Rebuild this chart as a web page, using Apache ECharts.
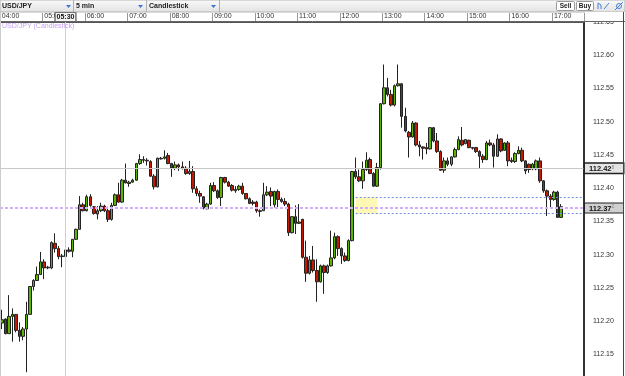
<!DOCTYPE html>
<html>
<head>
<meta charset="utf-8">
<script src="https://cdn.jsdelivr.net/npm/echarts@6/dist/echarts.min.js"></script>
<style>
  html, body { margin: 0; padding: 0; background: #fff; }
  #chart { width: 625px; height: 376px; }
</style>
</head>
<body>
<div id="chart"></div>
<script>
// USD/JPY 5 min candles
const opens = [
  112.197, 112.203, 112.181, 112.207, 112.210, 112.186, 112.177, 112.188, 112.210, 112.252,
  112.261, 112.270, 112.289, 112.280, 112.280, 112.317, 112.309, 112.298, 112.297, 112.307,
  112.305, 112.323, 112.338, 112.375, 112.366, 112.387, 112.372, 112.361, 112.366, 112.373,
  112.366, 112.353, 112.374, 112.390, 112.379, 112.412, 112.407, 112.409, 112.412, 112.437,
  112.443, 112.442, 112.440, 112.418, 112.402, 112.444, 112.445, 112.449, 112.437, 112.430,
  112.435, 112.432, 112.430, 112.422, 112.425, 112.399, 112.392, 112.387, 112.369, 112.376,
  112.404, 112.396, 112.386, 112.416, 112.409, 112.404, 112.396, 112.398, 112.403, 112.392,
  112.384, 112.379, 112.379, 112.366, 112.366, 112.390, 112.395, 112.375, 112.395, 112.383,
  112.380, 112.376, 112.333, 112.357, 112.347, 112.353, 112.296, 112.272, 112.292, 112.276,
  112.259, 112.283, 112.273, 112.283, 112.295, 112.327, 112.309, 112.298, 112.291, 112.321,
  112.425, 112.417, 112.411, 112.428, 112.443, 112.422, 112.403, 112.431, 112.527, 112.551,
  112.541, 112.525, 112.554, 112.557, 112.508, 112.484, 112.477, 112.498, 112.465, 112.462,
  112.461, 112.459, 112.491, 112.471, 112.455, 112.427, 112.441, 112.436, 112.447, 112.458,
  112.472, 112.467, 112.472, 112.461, 112.461, 112.455, 112.448, 112.443, 112.468, 112.465,
  112.448, 112.474, 112.457, 112.468, 112.442, 112.440, 112.452, 112.457, 112.441, 112.436,
  112.429, 112.429, 112.441, 112.411, 112.396, 112.388, 112.383, 112.394, 112.356
];
const closes = [
  112.202, 112.181, 112.207, 112.210, 112.186, 112.177, 112.188, 112.210, 112.252, 112.261,
  112.270, 112.289, 112.280, 112.281, 112.318, 112.309, 112.297, 112.297, 112.307, 112.305,
  112.323, 112.338, 112.375, 112.366, 112.387, 112.374, 112.362, 112.366, 112.373, 112.366,
  112.353, 112.374, 112.390, 112.379, 112.412, 112.408, 112.409, 112.412, 112.437, 112.443,
  112.442, 112.441, 112.418, 112.402, 112.445, 112.445, 112.447, 112.437, 112.430, 112.435,
  112.432, 112.430, 112.422, 112.425, 112.399, 112.392, 112.388, 112.370, 112.376, 112.404,
  112.396, 112.386, 112.416, 112.409, 112.403, 112.397, 112.398, 112.403, 112.392, 112.384,
  112.377, 112.377, 112.366, 112.365, 112.390, 112.394, 112.388, 112.395, 112.383, 112.380,
  112.376, 112.333, 112.357, 112.347, 112.349, 112.296, 112.272, 112.292, 112.276, 112.259,
  112.283, 112.273, 112.283, 112.295, 112.327, 112.309, 112.298, 112.291, 112.321, 112.425,
  112.417, 112.411, 112.428, 112.442, 112.422, 112.403, 112.431, 112.527, 112.551, 112.541,
  112.525, 112.554, 112.557, 112.508, 112.486, 112.477, 112.498, 112.465, 112.462, 112.460,
  112.459, 112.491, 112.471, 112.455, 112.427, 112.441, 112.436, 112.447, 112.458, 112.473,
  112.465, 112.473, 112.461, 112.460, 112.455, 112.448, 112.443, 112.468, 112.465, 112.448,
  112.474, 112.456, 112.468, 112.441, 112.440, 112.452, 112.457, 112.441, 112.426, 112.428,
  112.436, 112.441, 112.411, 112.396, 112.388, 112.383, 112.394, 112.356, 112.372
];
const lows = [
  112.188, 112.180, 112.181, 112.169, 112.183, 112.169, 112.171, 112.123, 112.210, 112.246,
  112.261, 112.270, 112.263, 112.278, 112.278, 112.303, 112.293, 112.281, 112.295, 112.303,
  112.296, 112.322, 112.338, 112.365, 112.365, 112.372, 112.360, 112.353, 112.364, 112.364,
  112.349, 112.351, 112.373, 112.378, 112.378, 112.407, 112.402, 112.408, 112.411, 112.435,
  112.438, 112.434, 112.417, 112.398, 112.401, 112.443, 112.443, 112.436, 112.417, 112.427,
  112.426, 112.428, 112.420, 112.420, 112.393, 112.388, 112.378, 112.368, 112.368, 112.375,
  112.394, 112.384, 112.373, 112.407, 112.402, 112.395, 112.393, 112.396, 112.390, 112.383,
  112.376, 112.374, 112.363, 112.357, 112.366, 112.388, 112.373, 112.371, 112.371, 112.378,
  112.373, 112.328, 112.332, 112.331, 112.346, 112.294, 112.259, 112.270, 112.273, 112.229,
  112.258, 112.241, 112.271, 112.282, 112.293, 112.298, 112.286, 112.289, 112.290, 112.320,
  112.414, 112.409, 112.399, 112.426, 112.421, 112.402, 112.402, 112.428, 112.526, 112.538,
  112.523, 112.523, 112.553, 112.491, 112.484, 112.446, 112.476, 112.463, 112.448, 112.443,
  112.451, 112.458, 112.469, 112.453, 112.426, 112.423, 112.433, 112.433, 112.446, 112.457,
  112.463, 112.466, 112.460, 112.458, 112.453, 112.429, 112.438, 112.442, 112.463, 112.431,
  112.447, 112.454, 112.456, 112.433, 112.438, 112.438, 112.451, 112.439, 112.421, 112.423,
  112.427, 112.427, 112.408, 112.393, 112.358, 112.371, 112.381, 112.355, 112.355
];
const highs = [
  112.217, 112.204, 112.239, 112.219, 112.210, 112.198, 112.191, 112.229, 112.252, 112.263,
  112.282, 112.304, 112.293, 112.283, 112.320, 112.332, 112.313, 112.301, 112.308, 112.311,
  112.323, 112.339, 112.388, 112.378, 112.390, 112.391, 112.373, 112.373, 112.378, 112.375,
  112.372, 112.378, 112.392, 112.408, 112.414, 112.437, 112.411, 112.414, 112.438, 112.451,
  112.448, 112.445, 112.442, 112.421, 112.446, 112.447, 112.457, 112.453, 112.438, 112.440,
  112.437, 112.440, 112.433, 112.441, 112.433, 112.403, 112.396, 112.388, 112.378, 112.408,
  112.409, 112.398, 112.417, 112.417, 112.411, 112.406, 112.403, 112.405, 112.408, 112.392,
  112.386, 112.382, 112.381, 112.368, 112.408, 112.403, 112.401, 112.396, 112.398, 112.386,
  112.385, 112.378, 112.358, 112.374, 112.376, 112.354, 112.321, 112.298, 112.313, 112.293,
  112.285, 112.285, 112.285, 112.336, 112.333, 112.329, 112.311, 112.303, 112.323, 112.426,
  112.446, 112.428, 112.440, 112.454, 112.446, 112.424, 112.438, 112.528, 112.586, 112.566,
  112.548, 112.556, 112.586, 112.558, 112.521, 112.486, 112.501, 112.499, 112.471, 112.463,
  112.468, 112.492, 112.492, 112.483, 112.457, 112.446, 112.446, 112.448, 112.461, 112.478,
  112.492, 112.474, 112.473, 112.462, 112.462, 112.457, 112.451, 112.471, 112.473, 112.468,
  112.481, 112.475, 112.469, 112.471, 112.446, 112.454, 112.463, 112.461, 112.442, 112.437,
  112.438, 112.443, 112.446, 112.412, 112.398, 112.391, 112.396, 112.396, 112.376
];

const startMinutes = 4 * 60;   // first candle 04:00
const barMinutes = 5;
const emptyBars = 6;           // free space right of the last candle
const crossTime = "05:30";
const crossPrice = 112.428;
const lastPrice = 112.372;
const zoneHigh = 112.386;
const zoneLow = 112.362;
const zoneStart = 100;
const zoneEnd = 106;

const times = [];
for (let i = 0; i < opens.length + emptyBars; i++) {
  const m = startMinutes + i * barMinutes;
  times.push(String(Math.floor(m / 60)).padStart(2, "0") + ":" + String(m % 60).padStart(2, "0"));
}
const candles = opens.map((o, i) => [o, closes[i], lows[i], highs[i]]);

const FONT = "Liberation Sans";
const chart = echarts.init(document.getElementById("chart"));

const priceLabel = (txt, sup, bg, bw) => ({
  show: true,
  position: "end",
  distance: 1,
  formatter: "{a|" + txt + "}{b|" + sup + "}",
  backgroundColor: bg,
  borderColor: "#222",
  borderWidth: bw,
  padding: [1, 2, 0, 4],
  width: 32,
  rich: {
    a: { fontFamily: FONT, fontSize: 7.5, fontWeight: "bold", color: "#111" },
    b: { fontFamily: FONT, fontSize: 5, color: "#888", verticalAlign: "top" },
  },
});

const option = {
  animation: false,
  backgroundColor: "#fff",
  // price scale runs past the bottom edge: 112.10 sits below the window
  grid: { left: 0, right: 41, top: 22, height: 365.5, outerBoundsMode: "none", containLabel: false },
  xAxis: {
    type: "category",
    data: times,
    position: "top",
    boundaryGap: true,
    axisLine: { show: true, lineStyle: { color: "#555", width: 1 } },
    axisTick: {
      show: true,
      interval: (i) => i % 12 === 0,
      length: 9,
      lineStyle: { color: "#999" },
    },
    axisLabel: {
      interval: (i) => i % 12 === 0 && i < 160,
      align: "left",
      margin: 2,
      fontFamily: FONT,
      fontSize: 7,
      color: "#333",
    },
    splitLine: { show: false },
  },
  yAxis: {
    type: "value",
    position: "right",
    min: 112.1,
    max: 112.65,
    interval: 0.05,
    axisLine: { show: true, lineStyle: { color: "#333", width: 2 } },
    axisTick: { show: false },
    splitLine: { show: false },
    axisLabel: {
      margin: 9,
      formatter: (v) => v.toFixed(2),
      fontFamily: FONT,
      fontSize: 7,
      color: "#333",
    },
  },
  series: [
    {
      name: "USD/JPY",
      type: "candlestick",
      data: candles,
      barWidth: 3,
      itemStyle: {
        color: "#5cb400",
        color0: "#c41a00",
        borderColor: "#222",
        borderColor0: "#222",
        borderWidth: 1,
      },
      markArea: {
        silent: true,
        itemStyle: { color: "rgba(255, 245, 150, 0.7)" },
        data: [[
          { xAxis: times[zoneStart], yAxis: zoneHigh },
          { xAxis: times[zoneEnd], yAxis: zoneLow },
        ]],
      },
      markLine: {
        silent: true,
        symbol: ["none", "none"],
        data: [
          {
            yAxis: crossPrice,
            lineStyle: { color: "#c8c8c8", type: "solid", width: 1 },
            label: priceLabel("112.42", "8", "#e4e4e4", 1.5),
          },
          {
            yAxis: lastPrice,
            lineStyle: { color: "#d3aefc", type: [3, 2], width: 2 },
            label: priceLabel("112.37", "2", "#cfcfcf", 1),
          },
          {
            xAxis: crossTime,
            lineStyle: { color: "#cfcfcf", type: "solid", width: 1 },
            label: {
              show: true,
              position: "end",
              distance: 1,
              formatter: crossTime,
              fontFamily: FONT,
              fontSize: 7,
              fontWeight: "bold",
              color: "#111",
              backgroundColor: "#f4f4f4",
              borderColor: "#333",
              borderWidth: 1,
              padding: [1, 1, 0, 1],
            },
          },
          [
            { coord: [times[zoneStart], zoneHigh] },
            { coord: [times[times.length - 1], zoneHigh] },
          ],
          [
            { coord: [times[zoneStart], zoneLow] },
            { coord: [times[times.length - 1], zoneLow] },
          ],
        ].map((d) =>
          Array.isArray(d)
            ? d.map((p) => Object.assign(p, {
                lineStyle: { color: "#6f93e0", type: [2, 2], width: 1 },
                label: { show: false },
              }))
            : d
        ),
      },
    },
  ],
  graphic: [
    // toolbar strip
    {
      type: "rect", z: 100,
      shape: { x: 0, y: 0, width: 625, height: 12 },
      style: {
        fill: new echarts.graphic.LinearGradient(0, 0, 0, 1, [
          { offset: 0, color: "#fbfbfb" },
          { offset: 1, color: "#e1e1e1" },
        ]),
        stroke: "#b5b5b5",
      },
    },
    { type: "line", z: 101, shape: { x1: 73.5, y1: 0, x2: 73.5, y2: 12 }, style: { stroke: "#b0b0b0" } },
    { type: "line", z: 101, shape: { x1: 146.5, y1: 0, x2: 146.5, y2: 12 }, style: { stroke: "#b0b0b0" } },
    { type: "line", z: 101, shape: { x1: 219.5, y1: 0, x2: 219.5, y2: 12 }, style: { stroke: "#b0b0b0" } },
    { type: "text", z: 101, style: { x: 2, y: 6.5, text: "USD/JPY", verticalAlign: "middle", font: "bold 7px " + FONT, fill: "#222" } },
    { type: "text", z: 101, style: { x: 76, y: 6.5, text: "5 min", verticalAlign: "middle", font: "bold 7px " + FONT, fill: "#222" } },
    { type: "text", z: 101, style: { x: 149, y: 6.5, text: "Candlestick", verticalAlign: "middle", font: "bold 7px " + FONT, fill: "#222" } },
    { type: "polygon", z: 101, shape: { points: [[66, 5], [71, 5], [68.5, 8]] }, style: { fill: "#3f74d6" } },
    { type: "polygon", z: 101, shape: { points: [[138, 5], [143, 5], [140.5, 8]] }, style: { fill: "#3f74d6" } },
    { type: "polygon", z: 101, shape: { points: [[211, 5], [216, 5], [213.5, 8]] }, style: { fill: "#3f74d6" } },
    // Sell / Buy buttons
    { type: "rect", z: 101, shape: { x: 556.5, y: 1.5, width: 18, height: 9, r: 1 }, style: { fill: "#fff", stroke: "#999" } },
    { type: "text", z: 102, style: { x: 565.5, y: 6.5, text: "Sell", align: "center", verticalAlign: "middle", font: "bold 6.5px " + FONT, fill: "#222" } },
    { type: "rect", z: 101, shape: { x: 576.5, y: 1.5, width: 17, height: 9, r: 1 }, style: { fill: "#fff", stroke: "#999" } },
    { type: "text", z: 102, style: { x: 585, y: 6.5, text: "Buy", align: "center", verticalAlign: "middle", font: "bold 6.5px " + FONT, fill: "#222" } },
    // small tool icons
    { type: "polyline", z: 101, shape: { points: [[598, 9], [598, 3], [601, 5], [601, 9]] }, style: { stroke: "#4a7fd8", fill: null, lineWidth: 1 } },
    { type: "line", z: 101, shape: { x1: 604, y1: 9, x2: 609, y2: 3 }, style: { stroke: "#4a7fd8", lineWidth: 1 } },
    { type: "circle", z: 101, shape: { cx: 619, cy: 6, r: 2.5 }, style: { stroke: "#4a7fd8", fill: null, lineWidth: 1 } },
    { type: "line", z: 101, shape: { x1: 615, y1: 10, x2: 623, y2: 2 }, style: { stroke: "#4a7fd8", lineWidth: 1 } },
    // blank corner above price axis
    { type: "rect", z: 100, shape: { x: 585, y: 12, width: 40, height: 9.5 }, style: { fill: "#fff" } },
    { type: "line", z: 101, shape: { x1: 0, y1: 21.5, x2: 625, y2: 21.5 }, style: { stroke: "#666", lineWidth: 1 } },
    { type: "line", z: 101, shape: { x1: 623.5, y1: 12, x2: 623.5, y2: 376 }, style: { stroke: "#444", lineWidth: 1 } },
    { type: "line", z: 101, shape: { x1: 0.5, y1: 12, x2: 0.5, y2: 376 }, style: { stroke: "#ccc", lineWidth: 1 } },
    // legend caption
    { type: "text", z: 101, style: { x: 2, y: 26, text: "USD/JPY (Candlestick)", verticalAlign: "middle", font: "7px " + FONT, fill: "#c6a3f3" } },
  ],
};

chart.setOption(option);
</script>
</body>
</html>
